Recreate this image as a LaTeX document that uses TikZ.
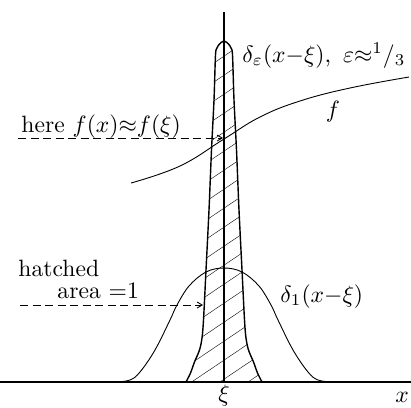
\documentclass[tikz,border=0pt]{standalone}
\usetikzlibrary{arrows.meta}
\begin{document}
\begin{tikzpicture}[x=1pt,y=-1pt,
  lbl/.style={inner sep=0pt,scale=2.36},
  axisline/.style={line width=2.4pt},
  peakline/.style={line width=1.4pt},
  thinline/.style={line width=0.9pt},
  hatchline/.style={line width=0.4pt},
  dashline/.style={line width=0.9pt,dash pattern=on 8pt off 4.5pt,-{Straight Barb[length=5pt,width=6pt]}}]
\useasboundingbox (0,0) rectangle (411,407);
\def\peakpath{(186,382) (190.5,373) (194.5,362) (199.5,350) (202,338) (203.5,320) (206,270) (209,210) (211.5,150) (214,100) (215.5,55) (217,48) (219.5,44) (224,41) (228.5,44) (231,48) (232.5,55) (234,100) (236.5,150) (239,210) (242,270) (244.5,320) (246,338) (248.5,350) (253.5,362) (257.5,373) (262,382)}
% hatched narrow peak
\begin{scope}
\clip plot[smooth,tension=0.5] coordinates {\peakpath} -- cycle;
\foreach \k in {0,...,26} \draw[hatchline] (150,30+\k*19) -- ++(150,-101);
\end{scope}
\draw[peakline] plot[smooth,tension=0.5] coordinates {\peakpath};
% wide bump
\draw[thinline] plot[smooth,tension=0.6] coordinates {(116,382) (130,380) (140,372) (155,350) (170,320) (177,305) (189,286) (206,272) (224,268) (242,272) (259,286) (271,305) (278,320) (293,350) (308,372) (318,380) (332,382)};
% f curve
\draw[thinline] plot[smooth,tension=0.7] coordinates {(131,183) (180,166) (224,139) (260,117) (300,101) (350,88) (409,77)};
% axes
\coordinate (xl) at (0,382);
\coordinate (xr) at (411,382);
\coordinate (yt) at (224,12);
\coordinate (o) at (224,382);
\draw[axisline] (xl) -- (xr);
\draw[axisline] (o) -- (yt);
% labels
\node[lbl,anchor=base west] (deps) at (242,62) {$\delta_\varepsilon(x{-}\xi)$,\ \,$\varepsilon{\approx}{}^{1}/_{3}$};
\node[lbl,anchor=base west] (here) at (21,132) {here $f(x){\approx}f(\xi)$};
\node[lbl,anchor=base] (flab) at (333,117) {$f$};
\node[lbl,anchor=base west] (hatch) at (18,276) {hatched};
\node[lbl,anchor=base west] (area) at (57,298) {area =1};
\node[lbl,anchor=base west] (d1) at (280,302) {$\delta_1(x{-}\xi)$};
\node[lbl,anchor=base] (xi) at (224,401) {$\xi$};
\node[lbl,anchor=base] (xlab) at (402,402) {$x$};
% dashed arrows
\coordinate (a1s) at (18,138);
\coordinate (a1e) at (223,138);
\coordinate (a2s) at (20,305);
\coordinate (a2e) at (203,305);
\draw[dashline] (a1s) -- (a1e);
\draw[dashline] (a2s) -- (a2e);
\end{tikzpicture}
\end{document}
